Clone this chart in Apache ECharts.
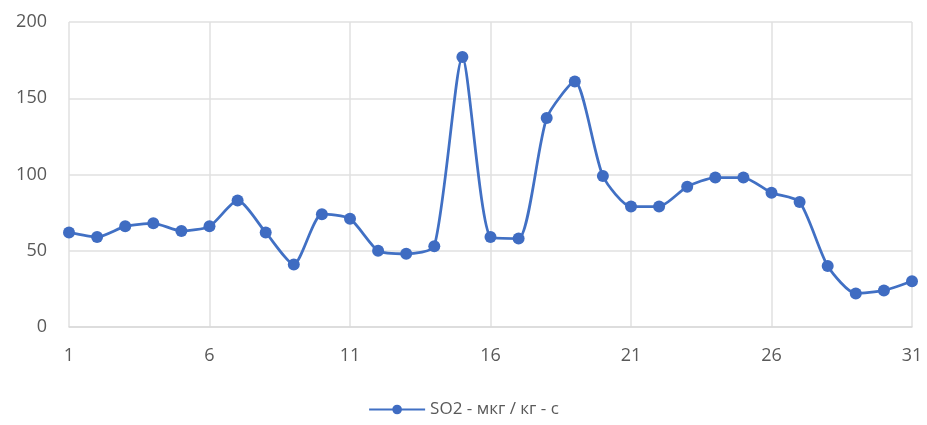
<!DOCTYPE html>
<html><head><meta charset="utf-8">
<script src="https://cdn.jsdelivr.net/npm/echarts@6/dist/echarts.min.js"></script>
<style>html,body{margin:0;padding:0;background:#fff}#c{width:927px;height:425px}</style>
</head><body><div id="c"></div>
<script>
const days = ['1','2','3','4','5','6','7','8','9','10','11','12','13','14','15','16','17','18','19','20','21','22','23','24','25','26','27','28','29','30','31'];
const so2 = [62,59,66,68,63,66,83,62,41,74,71,50,48,53,177,59,58,137,161,99,79,79,92,98,98,88,82,40,22,24,30];
const seriesName = 'SO2 - мкг / кг - с';

const chart = echarts.init(document.getElementById('c'));
chart.setOption({
  animation: false,
  textStyle: {fontFamily: 'Open Sans, Noto Sans, sans-serif'},
  grid: {left: 69, right: 15, top: 22, bottom: 98},
  legend: {
    bottom: 2, left: 'center',
    itemWidth: 56, itemHeight: 12, itemGap: 4,
    textStyle: {color: '#595959', fontSize: 17},
    data: [seriesName]
  },
  xAxis: {
    type: 'category', data: days, boundaryGap: false,
    axisLine: {lineStyle: {color: '#d9d9d9', width: 1.5}},
    axisTick: {show: false},
    axisLabel: {interval: 4, color: '#595959', fontSize: 18, margin: 20},
    splitLine: {show: true, interval: 4, lineStyle: {color: '#e0e0e0', width: 1.5}}
  },
  yAxis: {
    type: 'value', min: 0, max: 200, interval: 50,
    axisLine: {show: false}, axisTick: {show: false},
    axisLabel: {color: '#595959', fontSize: 18, margin: 22},
    splitLine: {lineStyle: {color: '#e0e0e0', width: 1.5}}
  },
  series: [{
    name: seriesName, type: 'line', data: so2,
    smooth: 0.22,
    symbol: 'circle', symbolSize: 12,
    lineStyle: {color: '#4170C4', width: 2.75},
    itemStyle: {color: '#3F6CC2'}
  }]
});
</script></body></html>
